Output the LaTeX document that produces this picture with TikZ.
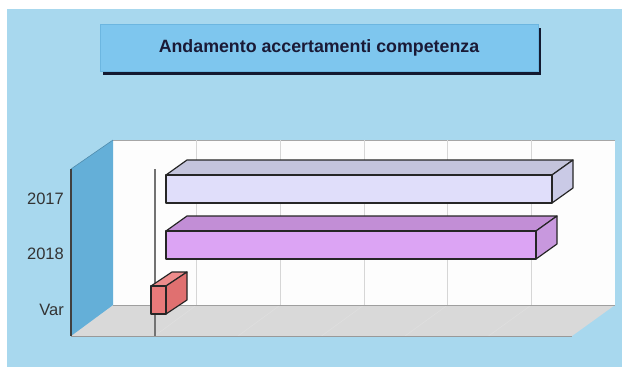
\documentclass[tikz,border=0pt]{standalone}
\usepackage{fontspec}
\setmainfont{Liberation Sans}
\definecolor{bgblue}{HTML}{A8D8EE}
\definecolor{titlefill}{HTML}{7EC6EE}
\definecolor{titleedge}{HTML}{6CB6E0}
\definecolor{shadowc}{HTML}{141A30}
\definecolor{wallblue}{HTML}{64AFD8}
\definecolor{backwall}{HTML}{FDFDFD}
\definecolor{floorc}{HTML}{D9D9D9}
\definecolor{gridc}{HTML}{D6D6D6}
\definecolor{aF}{HTML}{E0DEFA}
\definecolor{aT}{HTML}{C4C4DC}
\definecolor{aS}{HTML}{CACAE6}
\definecolor{bF}{HTML}{DCA4F4}
\definecolor{bT}{HTML}{C28ED6}
\definecolor{bS}{HTML}{C898DE}
\definecolor{cF}{HTML}{E87A7A}
\definecolor{cT}{HTML}{EE8C8C}
\definecolor{cS}{HTML}{E07070}
\definecolor{textc}{HTML}{333333}
\definecolor{titletext}{HTML}{1A1A36}
\tikzset{
  baredge/.style={draw=black!85, line width=1.2pt, line join=round},
  ylabel/.style={anchor=base east, inner sep=0pt, text=textc, font=\fontsize{16.5}{19}\selectfont},
  titlebox/.style={fill=titlefill, draw=titleedge, line width=0.6pt, minimum width=438pt, minimum height=46.5pt, inner sep=0pt, text=titletext, font=\bfseries\fontsize{17.8}{20}\selectfont}
}
\begin{document}
\begin{tikzpicture}[x=1pt,y=-1pt]
\useasboundingbox (0,0) rectangle (622,367);
\fill[white] (0,0) rectangle (622,367);
\fill[bgblue] (7,9) rectangle (622,367);
% title
\fill[shadowc] (103,28) rectangle (541,74.5);
\node[titlebox] (title) at (319,48) {Andamento accertamenti competenza};
% back wall
\fill[backwall] (113,140) rectangle (615,305);
\draw[gray!70, line width=0.8pt] (113,140) -- (615,140);
\foreach \k in {1,...,5} {
  \draw[gridc, line width=0.7pt] ({113+83.67*\k},140) -- ({113+83.67*\k},305);
}
% floor
\fill[floorc] (71,336) -- (113,305) -- (615,305) -- (572,336) -- cycle;
\foreach \k in {1,...,5} {
  \draw[gray!25, line width=0.6pt] ({113+83.67*\k},305) -- ({71+83.5*\k},336);
}
\draw[gray!75, line width=0.8pt] (113,305) -- (615,305);
\draw[gray!80, line width=1pt] (71,336) -- (572,336);
% left wall
\fill[wallblue] (71,169) -- (113,140) -- (113,305) -- (71,336) -- cycle;
\draw[wallblue!80!black, line width=0.6pt] (71,169) -- (113,140);
\draw[black!75, line width=1.2pt] (71,169) -- (71,336);
% zero line
\draw[black!55, line width=1.3pt] (155,169) -- (155,336);
% bar 2017
\filldraw[baredge, fill=aT] (166,175) -- (187,160) -- (573,160) -- (552,175) -- cycle;
\filldraw[baredge, fill=aS] (552,175) -- (573,160) -- (573,188) -- (552,203) -- cycle;
\filldraw[baredge, fill=aF] (166,175) rectangle (552,203);
% bar 2018
\filldraw[baredge, fill=bT] (166,231) -- (187,216) -- (557,216) -- (536,231) -- cycle;
\filldraw[baredge, fill=bS] (536,231) -- (557,216) -- (557,244) -- (536,259) -- cycle;
\filldraw[baredge, fill=bF] (166,231) rectangle (536,259);
% bar Var
\filldraw[baredge, fill=cT] (151,286) -- (172,272) -- (187,272) -- (166,286) -- cycle;
\filldraw[baredge, fill=cS] (166,286) -- (187,272) -- (187,300) -- (166,314) -- cycle;
\filldraw[baredge, fill=cF] (151,286) rectangle (166,314);
% labels
\node[ylabel] (l2017) at (64,204) {2017};
\node[ylabel] (l2018) at (64,259) {2018};
\node[ylabel] (lvar) at (64,315) {Var};
\end{tikzpicture}
\end{document}
